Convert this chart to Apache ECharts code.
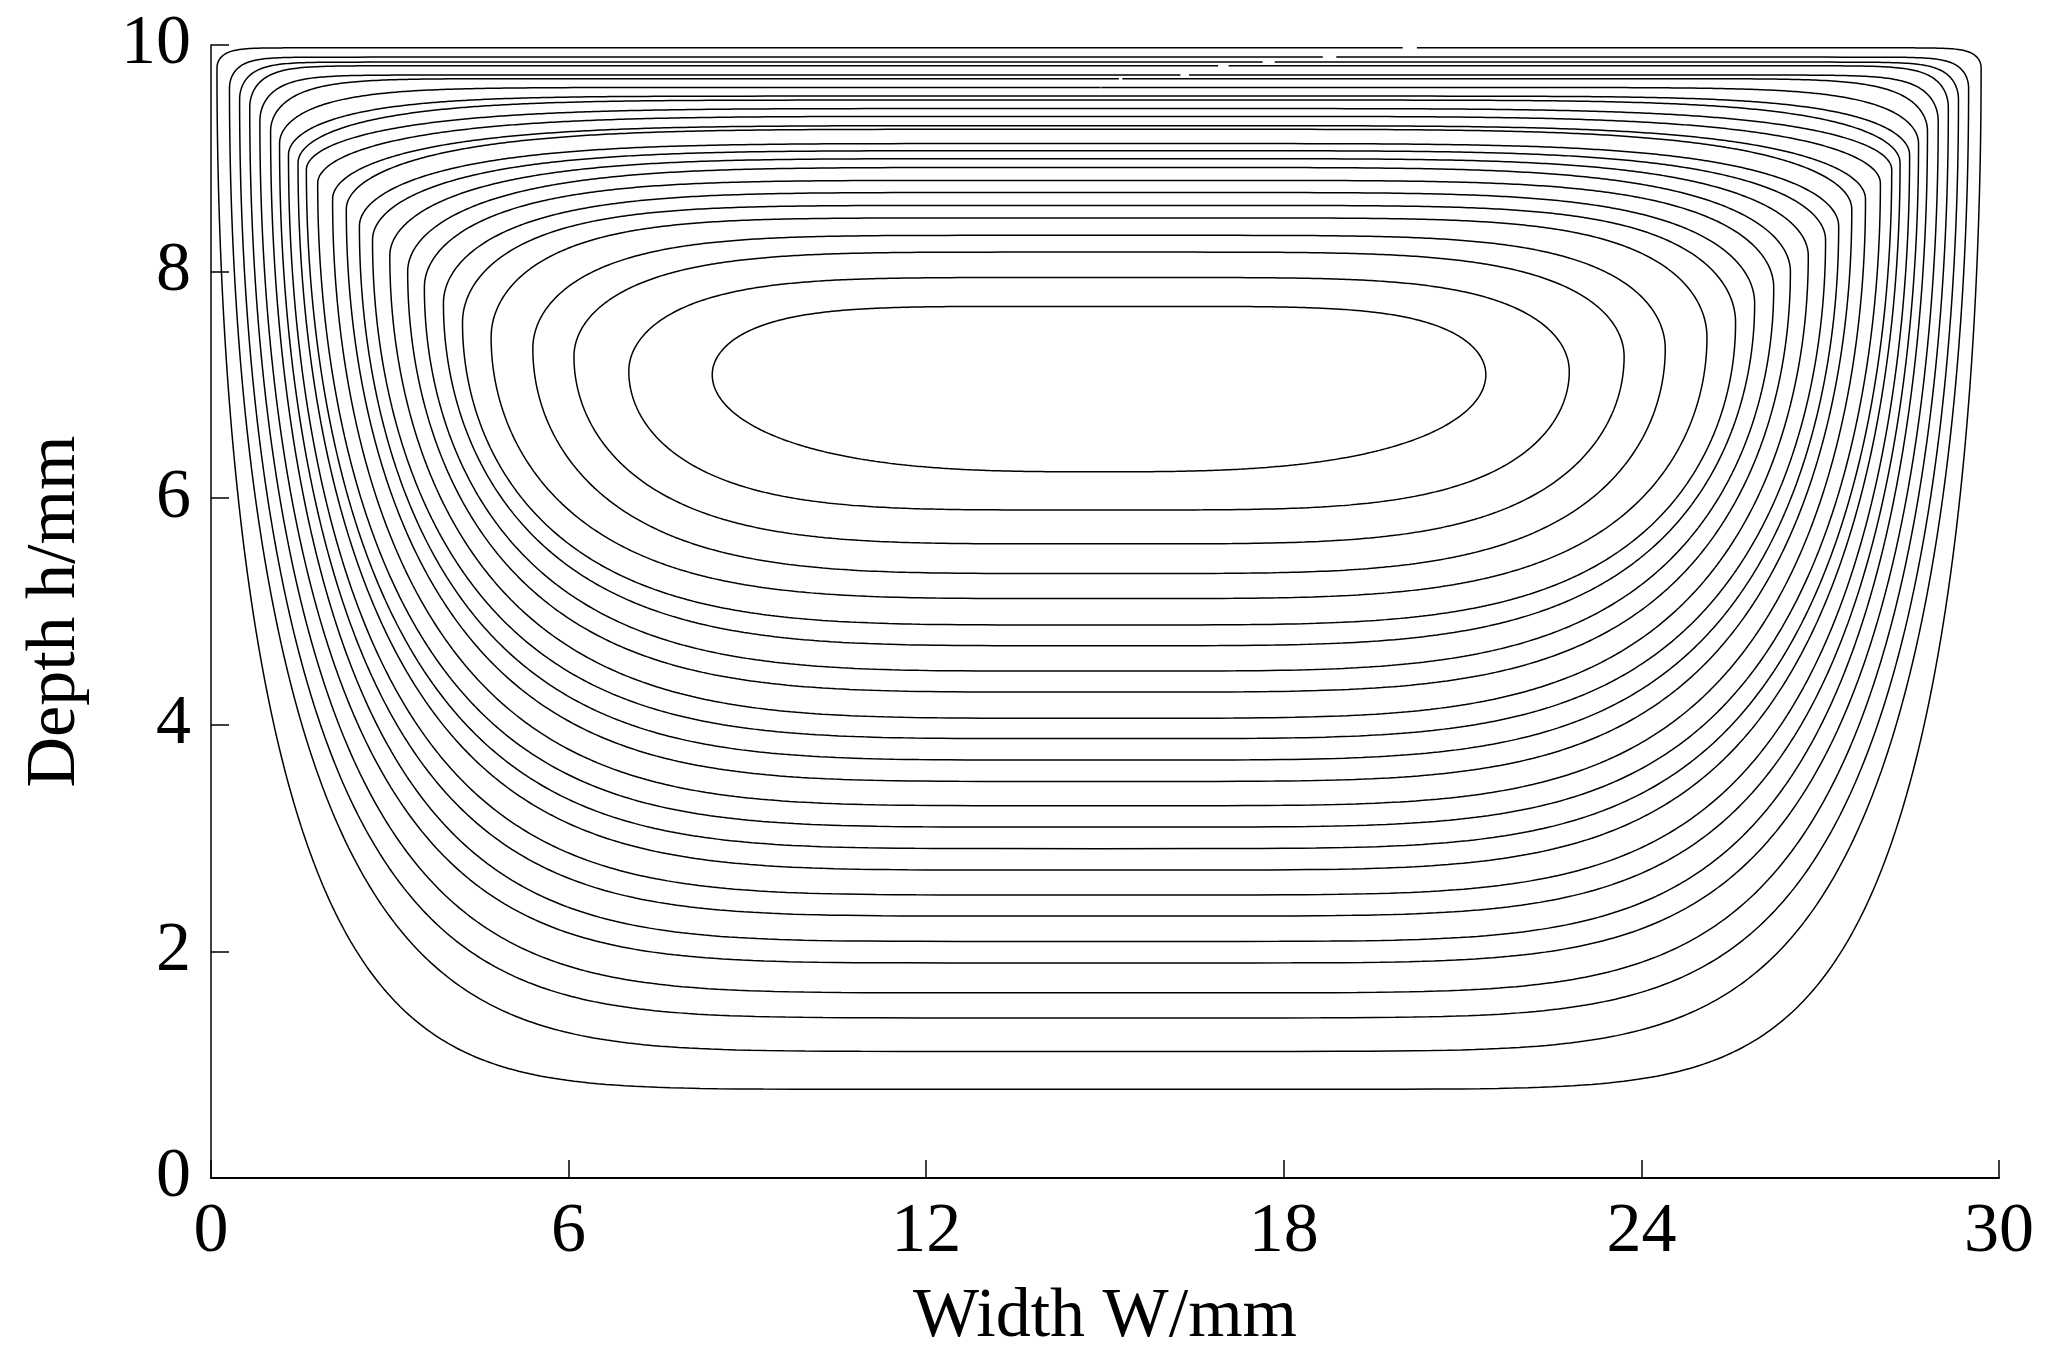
<!DOCTYPE html>
<html><head><meta charset="utf-8">
<script src="https://cdn.jsdelivr.net/npm/echarts@6/dist/echarts.min.js"></script>
<style>html,body{margin:0;padding:0;background:#fff}#c{width:2062px;height:1364px}</style>
</head><body><div id="c"></div>
<script>
// ---- data (contours listed outer -> inner) ----
const xTickLabels = [0, 6, 12, 18, 24, 30];
const yTickLabels = [0, 2, 4, 6, 8, 10];
const centerX = 14.9;                 // symmetry axis of the vortex (mm)
const topY    = [9.975, 9.893, 9.849, 9.817, 9.735, 9.703, 9.625, 9.549, 9.514, 9.439, 9.370, 9.288, 9.256, 9.130, 9.067, 8.997, 8.919, 8.805, 8.698, 8.584, 8.474, 8.320, 8.172, 7.948, 7.693];
const bottomY = [0.783, 1.117, 1.413, 1.634, 1.898, 2.088, 2.312, 2.498, 2.718, 2.907, 3.097, 3.286, 3.500, 3.689, 3.878, 4.058, 4.289, 4.474, 4.698, 4.881, 5.114, 5.335, 5.597, 5.896, 6.233];
const leftX   = [0.10, 0.31, 0.48, 0.65, 0.82, 1.00, 1.15, 1.30, 1.46, 1.60, 1.79, 2.04, 2.27, 2.49, 2.71, 3.00, 3.30, 3.58, 3.90, 4.22, 4.70, 5.40, 6.09, 7.01, 8.41];
const widestY = [9.80, 9.62, 9.52, 9.45, 9.33, 9.24, 9.13, 9.03, 8.96, 8.90, 8.78, 8.64, 8.55, 8.40, 8.28, 8.14, 8.00, 7.86, 7.72, 7.55, 7.42, 7.32, 7.25, 7.12, 7.09];
const bottomExp = [8.0, 6.6, 6.3, 6.0, 5.8, 5.6, 5.4, 5.2, 5.0, 4.9, 4.8, 4.7, 4.6, 4.5, 4.4, 4.3, 4.3, 4.2, 4.2, 4.2, 4.2, 4.2, 4.2, 4.2, 2.9];
const topExp    = [70, 55, 45, 38, 32, 20, 12, 8, 6.5, 5.2, 5, 5, 5, 5, 5, 5, 5, 5.5, 5.5, 6, 6, 5.5, 5, 5, 5.3];

// ---- build contour paths from the read extents ----
function contour(i) {
  const A = centerX - leftX[i];
  const Db = widestY[i] - bottomY[i];
  const Dt = topY[i] - widestY[i];
  const pts = [];
  const N = 900;
  for (let k = 0; k <= N; k++) {
    const th = Math.PI / 2 + (2 * Math.PI * k) / N;
    const c = Math.cos(th), s = Math.sin(th);
    const upper = s >= 0;
    const p = upper ? topExp[i] : bottomExp[i];
    const x = centerX + A * Math.sign(c) * Math.pow(Math.abs(c), 2 / p);
    const y = upper ? widestY[i] + Dt * Math.abs(s) : widestY[i] - Db * Math.abs(s);
    pts.push([x, y]);
  }
  return pts;
}

const series = topY.map((_, i) => ({
  type: 'line',
  data: contour(i),
  showSymbol: false,
  smooth: false,
  silent: true,
  clip: true,
  lineStyle: { color: '#000', width: 1.5 }
}));

const font = 'Liberation Serif';
const chart = echarts.init(document.getElementById('c'), null, { renderer: 'canvas' });
chart.setOption({
  animation: false,
  backgroundColor: '#fff',
  grid: { left: 211, right: 63, top: 45, bottom: 186 },
  xAxis: {
    type: 'value', min: 0, max: 30, interval: 6,
    name: 'Width W/mm', nameLocation: 'middle', nameGap: 105,
    nameTextStyle: { fontFamily: font, fontSize: 70, color: '#000' },
    axisLine: { lineStyle: { color: '#000', width: 2 } },
    axisTick: { inside: true, length: 18, lineStyle: { color: '#000', width: 1.5 } },
    axisLabel: { fontFamily: font, fontSize: 70, color: '#000', margin: 20,
      formatter: v => xTickLabels.includes(v) ? String(v) : '' },
    splitLine: { show: false }
  },
  yAxis: {
    type: 'value', min: 0, max: 10, interval: 2,
    name: 'Depth h/mm', nameLocation: 'middle', nameGap: 120, nameRotate: 90,
    nameTextStyle: { fontFamily: font, fontSize: 70, color: '#000' },
    axisLine: { lineStyle: { color: '#000', width: 1.5 } },
    axisTick: { inside: true, length: 18, lineStyle: { color: '#000', width: 1.5 } },
    axisLabel: { fontFamily: font, fontSize: 70, color: '#000', margin: 20,
      formatter: v => yTickLabels.includes(v) ? String(v) : '' },
    splitLine: { show: false }
  },
  series
});
</script></body></html>
